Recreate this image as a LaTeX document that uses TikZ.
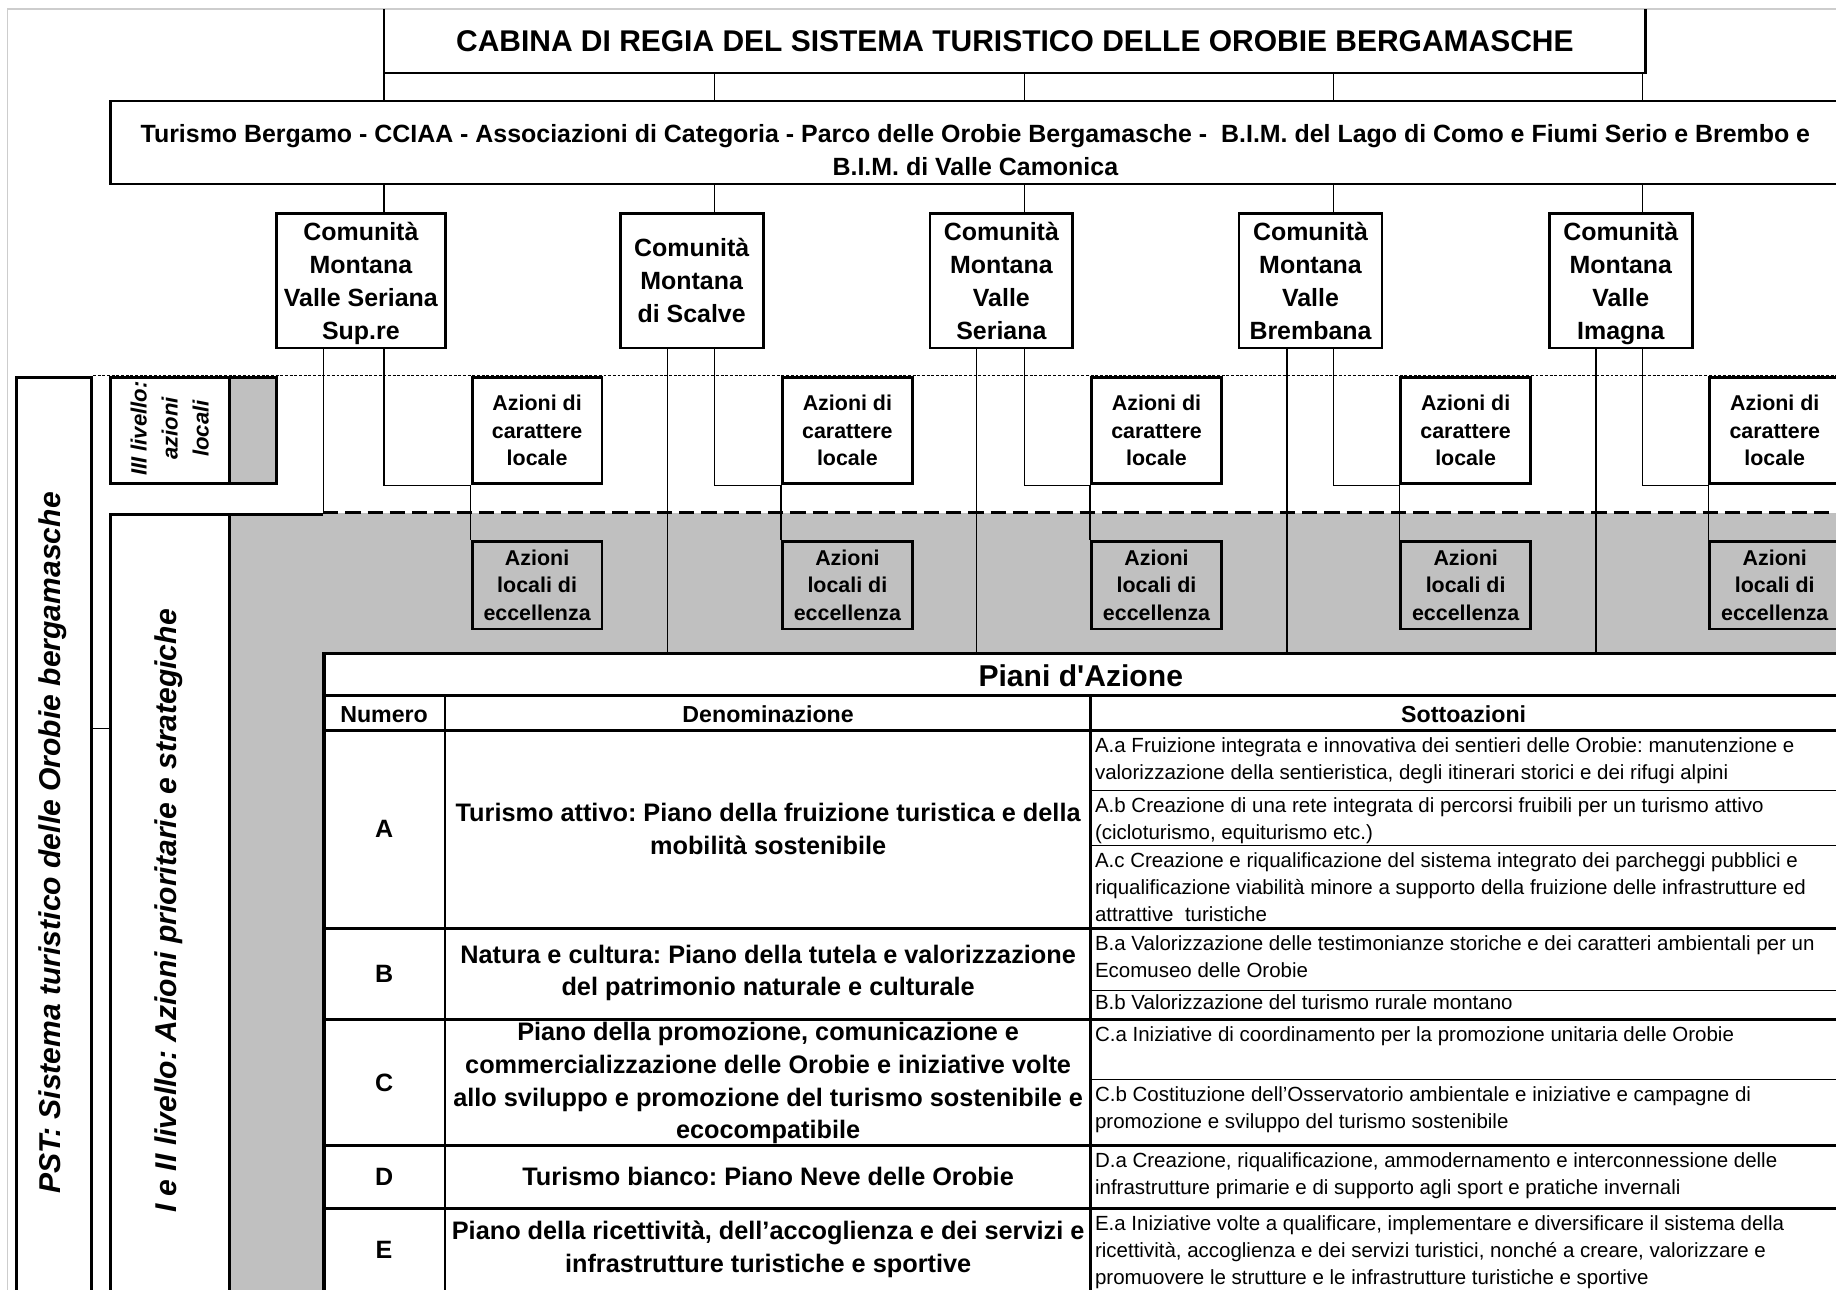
\documentclass[tikz,border=0pt]{standalone}
\usepackage{fontspec}
\setmainfont{Liberation Sans}
\definecolor{bandgray}{RGB}{192,192,192}
\definecolor{framegray}{RGB}{205,205,205}
\newcommand{\fsz}[2]{\fontsize{#1}{#2}\selectfont}
\frenchspacing
\begin{document}
\frenchspacing
\begin{tikzpicture}[x=1pt,y=-1pt,
  box/.style={draw, line width=2.4pt, inner sep=0pt, anchor=north west, align=center},
  thinln/.style={line width=1.1pt},
  thickln/.style={line width=2.4pt},
  midln/.style={line width=1.3pt},
  comtext/.style={font=\frenchspacing\bfseries\fsz{21.3}{28.3}, text depth=0pt},
  aztext/.style={font=\bfseries\fsz{18.3}{23.5}},
  dentext/.style={font=\frenchspacing\bfseries\fsz{21.6}{28}, align=center},
  subtext/.style={font=\frenchspacing\fsz{17.5}{23}, align=left, anchor=north west, inner sep=0pt},
  numtext/.style={font=\bfseries\fsz{21.4}{28}},
  headtext/.style={font=\bfseries\fsz{19.8}{24}},
  vtext/.style={rotate=90, font=\frenchspacing\bfseries\itshape\fsz{25.7}{30}},
]
\useasboundingbox (0,0) rectangle (1568,1101);
\clip (0,0) rectangle (1568,1101);
\fill[white] (0,0) rectangle (1568,1101);

% frame of the embedded picture
\draw[framegray, line width=1.5pt] (6.5,1110) -- (6.5,8) -- (1580,8);

% top boxes
\node[box, draw=none, minimum width=1075pt, minimum height=52pt, font=\bfseries\fsz{25.6}{30}] (cab) at (328,8) {CABINA DI REGIA DEL SISTEMA TURISTICO DELLE OROBIE BERGAMASCHE};
\draw[thickln] (cab.north west) |- (cab.south east) -- (cab.north east);

\node[box, minimum width=1480pt, minimum height=71pt] (tur) at (93,85) {};
\node[font=\frenchspacing\bfseries\fsz{21.3}{28}, align=center] (turt) at (833,128) {Turismo Bergamo - CCIAA - Associazioni di Categoria - Parco delle Orobie Bergamasche -\ \ B.I.M. del Lago di Como e Fiumi Serio e Brembo e\\B.I.M. di Valle Camonica};

\node[box, comtext, minimum width=144pt, minimum height=115pt] (com1) at (235,181) {Comunità\\Montana\\Valle Seriana\\Sup.re};
\node[box, comtext, minimum width=122pt, minimum height=115pt] (com2) at (528.5,181) {Comunità\\Montana\\di Scalve};
\node[box, comtext, minimum width=122pt, minimum height=115pt] (com3) at (793,181) {Comunità\\Montana\\Valle\\Seriana};
\node[box, comtext, minimum width=122pt, minimum height=115pt] (com4) at (1057,181) {Comunità\\Montana\\Valle\\Brembana};
\node[box, comtext, minimum width=122pt, minimum height=115pt] (com5) at (1322,181) {Comunità\\Montana\\Valle\\Imagna};

% left panel
\node[box, minimum width=64pt, minimum height=820pt] (pst) at (13,321) {};
\node[vtext] (pstt) at (45,720) {PST: Sistema turistico delle Orobie bergamasche};
\node[box, minimum width=102pt, minimum height=91pt] (lev3) at (93,321) {};
\node[box, fill=bandgray, minimum width=40pt, minimum height=91pt] (lev3g) at (195,321) {};
\node[rotate=90, font=\bfseries\itshape\fsz{18.9}{26.5}, align=center] (lev3t) at (145,366) {III livello:\\azioni\\locali};
\node[box, minimum width=102pt, minimum height=700pt] (lev12) at (93,438) {};
\node[box, fill=bandgray, minimum width=81pt, minimum height=700pt] (lev12g) at (195,438) {};
\node[vtext] (lev12t) at (144,778) {I e II livello: Azioni prioritarie e strategiche};
\coordinate (tick) at (85,622);
\draw[thinln] (pst.east |- tick) -- (lev12.west |- tick);

% grey band
\node[anchor=north west, fill=bandgray, minimum width=1320pt, minimum height=120pt, inner sep=0pt] (band) at (276,438) {};
\draw[line width=2.4pt, dash pattern=on 13pt off 6pt] (band.north west) -- (band.north east);
\draw[thickln] (band.south west) -- (band.south east);
\draw[line width=1pt, dash pattern=on 2.5pt off 1.5pt] (pst.north east) -- (pst.north east -| band.east);

% bus coordinates
\foreach \i/\x in {1/328,2/610,3/875,4/1139,5/1403} \coordinate (b\i) at (\x,0);
\foreach \i/\x in {1/276,2/570,3/834,4/1099,5/1363} \coordinate (w\i) at (\x,0);

\foreach \i in {1,...,5} {
  \draw[thinln] (b\i |- cab.south) -- (b\i |- tur.north);
  \draw[thinln] (b\i |- tur.south) -- (b\i |- com\i.north);
}
\draw[thinln] (w1 |- com1.south) -- (w1 |- lev12.north);
\foreach \i in {2,...,5} \draw[thinln] (w\i |- com\i.south) -- (w\i |- band.south);

% action boxes
\foreach \i/\x in {1/402,2/667,3/931,4/1195,5/1459} {
  \node[box, aztext, fill=white, minimum width=111pt, minimum height=91pt] (loc\i) at (\x,321) {Azioni di\\carattere\\locale};
  \node[box, aztext, fill=bandgray, minimum width=111pt, minimum height=75pt] (ecc\i) at (\x,461) {Azioni\\locali di\\eccellenza};
}
\foreach \i in {1,...,5} {
  \draw[thinln] (b\i |- com\i.south) |- (loc\i.south west);
  \draw[thinln] (loc\i.south west) -- (ecc\i.north west);
}

% table
\draw[thickln] (276,557) -- (276,1110);
\foreach \y in {594,624,793,871,978,1032} \draw[thickln] (276,\y) -- (1600,\y);
\foreach \y in {675,722,846,922} \draw[midln] (931,\y) -- (1600,\y);
\draw[thickln] (380,594) -- (380,1110);
\draw[thickln] (931,594) -- (931,1110);

\node[font=\bfseries\fsz{25.7}{30}] (piani) at (923,577) {Piani d\textquotesingle Azione};
\node[headtext] (hnum) at (328,610) {Numero};
\node[headtext] (hden) at (656,610) {Denominazione};
\node[headtext] (hsot) at (1250,610) {Sottoazioni};

\node[numtext] (nA) at (328,708) {A};
\node[numtext] (nB) at (328,832) {B};
\node[numtext] (nC) at (328,925) {C};
\node[numtext] (nD) at (328,1005) {D};
\node[numtext] (nE) at (328,1067) {E};

\node[dentext] (dA) at (656,708) {Turismo attivo: Piano della fruizione turistica e della\\mobilità sostenibile};
\node[dentext] (dB) at (656,831) {Natura e cultura: Piano della tutela e valorizzazione\\del patrimonio naturale e culturale};
\node[dentext] (dC) at (656,925) {Piano della promozione, comunicazione e\\commercializzazione delle Orobie e iniziative volte\\allo sviluppo e promozione del turismo sostenibile e\\ecocompatibile};
\node[dentext] (dD) at (656,1005) {Turismo bianco: Piano Neve delle Orobie};
\node[dentext] (dE) at (656,1067) {Piano della ricettività, dell’accoglienza e dei servizi e\\infrastrutture turistiche e sportive};

\node[subtext] (sAa) at (935,630) {A.a Fruizione integrata e innovativa dei sentieri delle Orobie: manutenzione e\\valorizzazione della sentieristica, degli itinerari storici e dei rifugi alpini};
\node[subtext] (sAb) at (935,681) {A.b Creazione di una rete integrata di percorsi fruibili per un turismo attivo\\(cicloturismo, equiturismo etc.)};
\node[subtext] (sAc) at (935,728) {A.c Creazione e riqualificazione del sistema integrato dei parcheggi pubblici e\\riqualificazione viabilità minore a supporto della fruizione delle infrastrutture ed\\attrattive\ \ turistiche};
\node[subtext] (sBa) at (935,799) {B.a Valorizzazione delle testimonianze storiche e dei caratteri ambientali per un\\Ecomuseo delle Orobie};
\node[subtext] (sBb) at (935,849) {B.b Valorizzazione del turismo rurale montano};
\node[subtext] (sCa) at (935,877) {C.a Iniziative di coordinamento per la promozione unitaria delle Orobie};
\node[subtext] (sCb) at (935,928) {C.b Costituzione dell’Osservatorio ambientale e iniziative e campagne di\\promozione e sviluppo del turismo sostenibile};
\node[subtext] (sDa) at (935,984) {D.a Creazione, riqualificazione, ammodernamento e interconnessione delle\\infrastrutture primarie e di supporto agli sport e pratiche invernali};
\node[subtext] (sEa) at (935,1038) {E.a Iniziative volte a qualificare, implementare e diversificare il sistema della\\ricettività, accoglienza e dei servizi turistici, nonché a creare, valorizzare e\\promuovere le strutture e le infrastrutture turistiche e sportive};
\end{tikzpicture}
\end{document}
